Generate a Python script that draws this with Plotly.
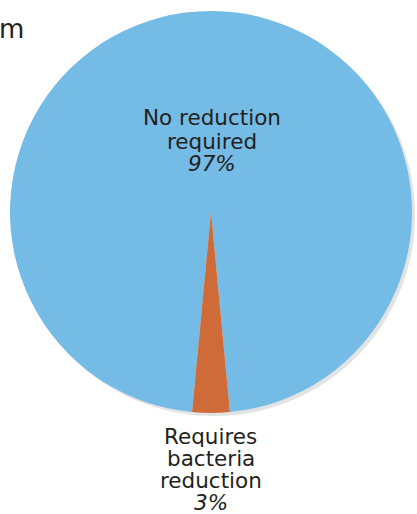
import plotly.graph_objects as go

labels = ["No reduction required", "Requires bacteria reduction"]
label_lines = [["No reduction", "required"], ["Requires", "bacteria", "reduction"]]
values = [97, 3]
pct_text = ["97%", "3%"]
colors = ["#74BBE6", "#CF6A39"]

W, H = 417, 514
cx, cy, r = 211, 212, 201

def px(x):
    return x / W

def py(y):
    return 1 - y / H

fig = go.Figure()
fig.add_trace(go.Pie(
    labels=labels, values=values, sort=False, direction="clockwise",
    rotation=-174.6, marker=dict(colors=colors, line=dict(width=0)),
    textinfo="none", hoverinfo="label+percent", showlegend=False,
    domain=dict(x=[px(cx - r), px(cx + r)], y=[py(cy + r), py(cy - r)]),
))

# soft shadow behind the pie
fig.add_shape(type="circle", xref="paper", yref="paper", layer="below",
              x0=px(cx - r + 3), x1=px(cx + r + 3), y0=py(cy + r + 3), y1=py(cy - r + 3),
              fillcolor="#E3E3E3", line=dict(width=0))

font = dict(family="DejaVu Sans", size=21.5, color="#231F20")
ann = []
# inside label
inside_y = [118, 141]
for line, yy in zip(label_lines[0], inside_y):
    ann.append(dict(text=line, x=px(212), y=py(yy)))
ann.append(dict(text="<i>" + pct_text[0] + "</i>", x=px(212), y=py(163)))
# outside label
out_y = [436, 458, 480]
for line, yy in zip(label_lines[1], out_y):
    ann.append(dict(text=line, x=px(211), y=py(yy)))
ann.append(dict(text="<i>" + pct_text[1] + "</i>", x=px(211), y=py(502)))

for a in ann:
    a.update(xref="paper", yref="paper", showarrow=False, xanchor="center",
             yanchor="middle", font=font, height=21, borderpad=0)

ann.append(dict(text="m", x=px(-3), y=py(29), xref="paper", yref="paper",
                showarrow=False, xanchor="left", yanchor="middle",
                font=dict(family="DejaVu Sans", size=26, color="#231F20")))

fig.update_layout(width=W, height=H, margin=dict(l=0, r=0, t=0, b=0),
                  paper_bgcolor="white", plot_bgcolor="white", annotations=ann)
fig.write_html("out.html")
